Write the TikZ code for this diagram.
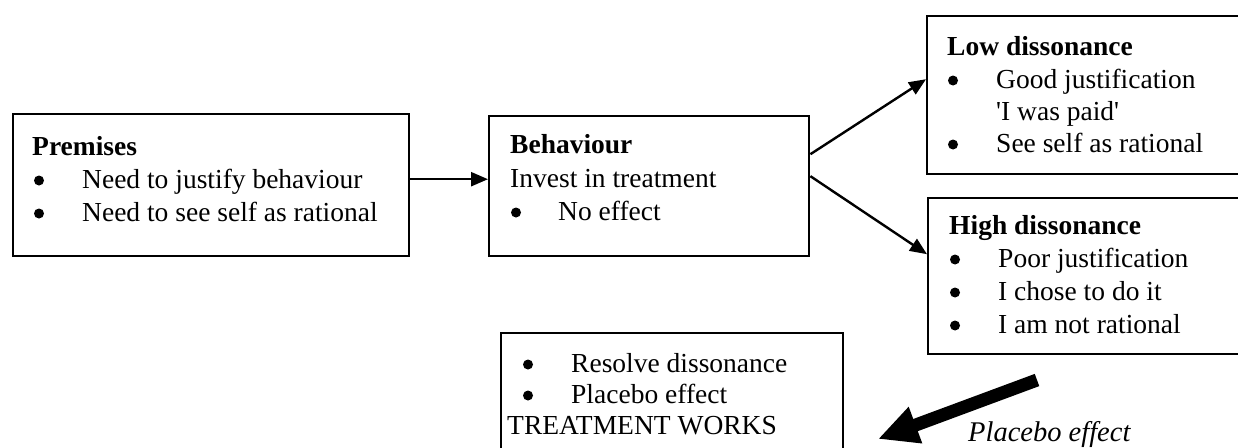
\documentclass[tikz,border=0pt]{standalone}
\usepackage{fontspec}
\setmainfont{Liberation Serif}
\usetikzlibrary{arrows.meta,calc}
\tikzset{
  box/.style={draw=black, line width=2.4pt, rectangle, anchor=north west, inner sep=0pt},
  txt/.style={anchor=base west, inner sep=0pt, font=\fontsize{27.5}{33}\selectfont},
  bul/.style={circle, fill=black, minimum size=10pt, inner sep=0pt},
  conn/.style={line width=2.4pt, -{Triangle[length=17pt,width=14pt]}},
  bigarrow/.style={line width=13pt, line cap=butt, -{Triangle[length=40pt,width=36pt]}}
}
\begin{document}
\begin{tikzpicture}[x=1pt,y=-1pt]
\useasboundingbox (0,0) rectangle (1238,447);
\clip (0,0) rectangle (1238,447);
% boxes
\node[box, minimum width=396pt, minimum height=142pt] (prem) at (12,113) {};
\node[box, minimum width=320pt, minimum height=140pt] (beh) at (488,115) {};
\node[box, minimum width=340pt, minimum height=158pt] (low) at (926,15) {};
\node[box, minimum width=340pt, minimum height=156pt] (high) at (927,197) {};
\node[box, minimum width=342pt, minimum height=140pt] (res) at (500,332) {};
% premises text
\node[txt] (p1) at (32,155) {\textbf{Premises}};
\node[bul] (p2b) at (39,180.5) {};
\node[txt] (p2) at (82,188) {Need to justify behaviour};
\node[bul] (p3b) at (39,213.5) {};
\node[txt] (p3) at (82,221) {Need to see self as rational};
% behaviour text
\node[txt] (b1) at (510,153) {\textbf{Behaviour}};
\node[txt] (b2) at (510,187) {Invest in treatment};
\node[bul] (b3b) at (516,212.5) {};
\node[txt] (b3) at (558,220) {No effect};
% low dissonance text
\node[txt] (l1) at (947,55) {\textbf{Low dissonance}};
\node[bul] (l2b) at (953,80.5) {};
\node[txt] (l2) at (996,88) {Good justification};
\node[txt] (l3) at (996,120) {\textquotesingle I was paid\textquotesingle};
\node[bul] (l4b) at (953,144.5) {};
\node[txt] (l4) at (996,152) {See self as rational};
% high dissonance text
\node[txt] (h1) at (949,234) {\textbf{High dissonance}};
\node[bul] (h2b) at (955,259.5) {};
\node[txt] (h2) at (998,267) {Poor justification};
\node[bul] (h3b) at (955,292.5) {};
\node[txt] (h3) at (998,300) {I chose to do it};
\node[bul] (h4b) at (955,325.5) {};
\node[txt] (h4) at (998,333) {I am not rational};
% resolve text
\node[bul] (r1b) at (528,364.5) {};
\node[txt] (r1) at (571,372) {Resolve dissonance};
\node[bul] (r2b) at (528,395.5) {};
\node[txt] (r2) at (571,403) {Placebo effect};
\node[txt] (r3) at (507,434) {TREATMENT WORKS};
% placebo label
\node[anchor=base west, inner sep=0pt, font=\fontsize{28.5}{33}\selectfont\itshape] (pl) at (968,441) {Placebo effect};
% connectors
\draw[conn] ([yshift=6pt]prem.east) -- ([yshift=6pt]prem.east -| beh.west);
\draw[conn] ([yshift=32pt]beh.east) -- ([yshift=16pt]low.west);
\draw[conn] ([yshift=10pt]beh.east) -- ([yshift=22pt]high.west);
% big arrow
\coordinate (ba) at (1037,380);
\coordinate (bb) at (878,439);
\draw[bigarrow] (ba) -- (bb);
\end{tikzpicture}
\end{document}
